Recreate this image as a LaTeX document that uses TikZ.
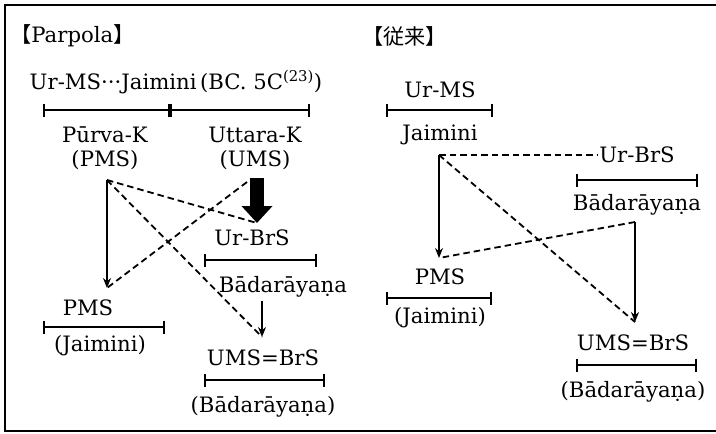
\documentclass[tikz,border=0pt]{standalone}
\usepackage{fontspec}
\setmainfont{DejaVu Serif}
\newfontfamily\cjk{Noto Sans CJK JP}
\usetikzlibrary{arrows.meta}
\begin{document}
\begin{tikzpicture}[x=1pt,y=-1pt,
  lbl/.style={font=\fontsize{21.2}{24}\selectfont, inner sep=0pt, anchor=center},
  barline/.style={line width=1.7pt, {Bar[width=13pt]}-{Bar[width=13pt]}},
  sol/.style={line width=1.6pt, -{Stealth[length=10pt,width=8pt]}},
  dsh/.style={line width=1.8pt, dash pattern=on 6.5pt off 4pt},
  bigarrow/.style={line width=14pt, -{Triangle[length=17pt,width=30pt]}},
]
\useasboundingbox (0,0) rectangle (716,434);
\draw[line width=2pt] (722,5) -- (5,5) -- (5,431) -- (722,431);

% ---- titles
\node[lbl, anchor=west] (tp) at (10,36) {{\cjk 【}Parpola{\cjk 】}};
\node[lbl, anchor=west] (tj) at (362,36) {\cjk 【従来】};

% ---- Parpola side
\node[lbl] (top) at (176,82) {Ur-MS···Jaimini\,(BC.~5C\textsuperscript{(23)})};
\draw[barline] (43,110) -- (170,110);
\draw[barline] (170,110) -- (310,110);
\node[lbl] (pk) at (105,135) {Pūrva-K};
\node[lbl] (pms1) at (105,160) {(PMS)};
\node[lbl] (uk) at (255,135) {Uttara-K};
\node[lbl] (ums1) at (255,160) {(UMS)};

\coordinate (a) at (107,180);
\coordinate (b) at (247,182);
\coordinate (pmsin) at (107,288);
\coordinate (ubtip) at (257,223);
\coordinate (umsin) at (262,337);
\coordinate (bdout) at (262,301);
\coordinate (bigstart) at (257,178);

\node[lbl] (pms2) at (88,308) {PMS};
\draw[barline] (43,327) -- (165,327);
\node[lbl] (jai1) at (100,346) {(Jaimini)};

\node[lbl] (ub1) at (252,238) {Ur-BrS};
\draw[barline] (204,260) -- (317,260);
\node[lbl] (bd1) at (283,287) {Bādarāyaṇa};
\node[lbl] (ums2) at (263,358) {UMS=BrS};
\draw[barline] (204,380) -- (325,380);
\node[lbl] (bd2) at (263,407) {(Bādarāyaṇa)};

\draw[sol] (a) -- (pmsin);
\draw[dsh] (a) -- (ubtip);
\draw[dsh] (a) -- (umsin);
\draw[dsh] (b) -- (pmsin);
\draw[bigarrow] (bigstart) -- (ubtip);
\draw[sol] (bdout) -- (umsin);

% ---- conventional side
\node[lbl] (urms) at (440,90) {Ur-MS};
\draw[barline] (386,110) -- (493,110);
\node[lbl] (jai2) at (440,135) {Jaimini};
\coordinate (j) at (439,155);

\node[lbl] (ub2) at (637,155) {Ur-BrS};
\draw[barline] (576,180) -- (698,180);
\node[lbl] (bd3) at (637,205) {Bādarāyaṇa};
\coordinate (bb) at (635,222);

\coordinate (pmsR) at (439,258);
\coordinate (umsR) at (635,322);

\node[lbl] (pms3) at (440,277) {PMS};
\draw[barline] (386,298) -- (492,298);
\node[lbl] (jai3) at (440,318) {(Jaimini)};

\node[lbl] (ums3) at (633,343) {UMS=BrS};
\draw[barline] (576,365) -- (697,365);
\node[lbl] (bd4) at (633,392) {(Bādarāyaṇa)};

\draw[dsh] (j) -- ([xshift=-2pt]ub2.west);
\draw[sol] (j) -- (pmsR);
\draw[dsh] (j) -- (umsR);
\draw[dsh] (bb) -- (pmsR);
\draw[sol] (bb) -- (umsR);
\end{tikzpicture}
\end{document}
